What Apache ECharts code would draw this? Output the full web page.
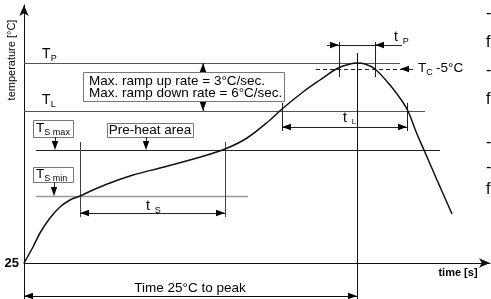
<!DOCTYPE html>
<html>
<head>
<meta charset="utf-8">
<script src="https://cdn.jsdelivr.net/npm/echarts@6/dist/echarts.min.js"></script>
<style>
  html, body { margin: 0; padding: 0; background: #fff; }
  #chart { width: 491px; height: 299px; }
</style>
</head>
<body>
<div id="chart"></div>
<script>
// schematic reflow profile, arbitrary units (not to scale)
var profileTime = [0, 9, 16, 26, 36, 46, 56, 69, 86, 109, 136, 173, 201, 223, 246, 258, 279, 296, 314, 326, 333, 341, 351, 366, 378, 384, 393, 400, 413, 428];
var profileTemp = [0, 16, 30, 45, 56, 63, 67, 73, 80, 88, 95, 105, 114, 125, 143, 154, 171, 183, 195, 199, 200, 199, 194, 178, 162, 152, 129, 113, 83, 49];

// reference temperature levels
var levelNames = ['Tp', 'Tc-5', 'TL', 'TSmax', 'TSmin'];
var levelTemps = [200, 194, 152, 113, 67];
var levelFrom = [0, 292, 0, 12, 12];
var levelTo = [376, 374, 401, 416, 224];

// time windows
var tsRange = [56, 201];
var tlRange = [258, 383];
var tpRange = [315, 351];
var peakTime = 333;

var FONT = '"Liberation Sans", Arial, sans-serif';
var lv = {};
levelNames.forEach(function (n, i) { lv[n] = levelTemps[i]; });

function renderNotes(params, api) {
    var kids = [];
    function pt(x, y) { return api.coord([x, y]); }
    function seg(x0, y0, x1, y1, color, w, dash) {
        var a = pt(x0, y0), b = pt(x1, y1);
        if (a[1] === b[1]) { a[1] = Math.round(a[1]) + 0.5; b[1] = a[1]; }
        if (a[0] === b[0]) { a[0] = Math.round(a[0]) + 0.5; b[0] = a[0]; }
        kids.push({
            type: 'line',
            shape: { x1: a[0], y1: a[1], x2: b[0], y2: b[1] },
            style: { stroke: color || '#333', lineWidth: w || 1, lineDash: dash || null }
        });
    }
    function head(x, y, dir) {
        var p = pt(x, y), L = 9, H = 3.2, q;
        var px = p[0], py = p[1];
        if (dir === 'r') q = [[px, py], [px - L, py - H], [px - L, py + H]];
        if (dir === 'l') q = [[px, py], [px + L, py - H], [px + L, py + H]];
        if (dir === 'u') q = [[px, py], [px - H, py + L], [px + H, py + L]];
        if (dir === 'd') q = [[px, py], [px - H, py - L], [px + H, py - L]];
        kids.push({ type: 'polygon', shape: { points: q }, style: { fill: '#000' } });
    }
    function txt(x, y, s, size, align, weight) {
        var p = pt(x, y);
        kids.push({
            type: 'text',
            style: {
                text: s, x: p[0], y: p[1], fill: '#000',
                font: (weight || 'normal') + ' ' + size + 'px ' + FONT,
                align: align || 'left', verticalAlign: 'middle'
            }
        });
        return p;
    }
    function subLabel(x, y, main, sub, size, subSize) {
        var p = pt(x, y);
        kids.push({ type: 'text', style: { text: main, x: p[0], y: p[1], fill: '#000',
            font: size + 'px ' + FONT, align: 'left', verticalAlign: 'middle' } });
        kids.push({ type: 'text', style: { text: sub, x: p[0] + size * 0.62, y: p[1] + size * 0.3, fill: '#000',
            font: subSize + 'px ' + FONT, align: 'left', verticalAlign: 'middle' } });
    }
    function box(x0, y0, x1, y1) {
        var a = pt(x0, y0), b = pt(x1, y1);
        kids.push({
            type: 'rect',
            shape: { x: Math.round(a[0]) + 0.5, y: Math.round(a[1]) + 0.5, width: Math.round(b[0] - a[0]), height: Math.round(b[1] - a[1]) },
            style: { fill: '#fff', stroke: '#777', lineWidth: 1 }
        });
    }

    // temperature levels
    seg(levelFrom[0], lv.Tp, levelTo[0], lv.Tp, '#555');
    seg(levelFrom[1], lv['Tc-5'], levelTo[1], lv['Tc-5'], '#222', 1, [4, 3]);
    seg(levelFrom[2], lv.TL, levelTo[2], lv.TL, '#555');
    seg(levelFrom[3], lv.TSmax, levelTo[3], lv.TSmax, '#222');
    seg(levelFrom[4], lv.TSmin, levelTo[4], lv.TSmin, '#999', 1.5);

    // preheat window t_s
    seg(tsRange[0], 121, tsRange[0], 46, '#444');
    seg(tsRange[1], 121, tsRange[1], 46, '#444');
    seg(tsRange[0], 50, tsRange[1], 50, '#222');
    head(tsRange[0], 50, 'l');
    head(tsRange[1], 50, 'r');
    subLabel(122, 57, 't', 'S', 14, 9);

    // time above liquidus t_L
    seg(tlRange[0], 160, tlRange[0], 132, '#222');
    seg(tlRange[1], 160, tlRange[1], 132, '#222');
    seg(tlRange[0], 136, tlRange[1], 136, '#222');
    head(tlRange[0], 136, 'l');
    head(tlRange[1], 136, 'r');
    subLabel(319, 145, 't', 'L', 14, 8);

    // time near peak t_p
    seg(tpRange[0], 221, tpRange[0], 186, '#222');
    seg(tpRange[1], 221, tpRange[1], 186, '#222');
    seg(tpRange[0] - 12, 218, tpRange[1] + 27, 218, '#222');
    head(tpRange[0], 218, 'r');
    head(tpRange[1], 218, 'l');
    subLabel(370, 226, 't', 'P', 14, 9);

    // Tc -5 pointer
    seg(376, lv['Tc-5'], 389, lv['Tc-5'], '#222');
    head(376, lv['Tc-5'], 'l');
    subLabel(394, lv['Tc-5'] + 1, 'T', 'C', 13.5, 9);
    txt(412, lv['Tc-5'] + 1, '-5°C', 13.5);

    // peak line and time 25°C to peak
    seg(peakTime, 210, peakTime, -36, '#111');
    seg(0, -33, peakTime, -33, '#111');
    head(0, -33, 'l');
    head(peakTime, -33, 'r');
    txt(166, -25, 'Time 25°C to peak', 13.5, 'center');

    // ramp rate arrow and box
    seg(179, lv.Tp, 179, lv.TL, '#222');
    head(179, lv.Tp, 'u');
    head(179, lv.TL, 'd');
    box(59, 191, 260, 162);
    txt(65, 182, 'Max. ramp up rate = 3°C/sec.', 13.5);
    txt(65, 170, 'Max. ramp down rate = 6°C/sec.', 13.5);

    // Ts max / Ts min / pre-heat labels
    box(9, 143, 49, 126);
    subLabel(12, 135, 'T', 'S max', 13.5, 9);
    seg(31, 126, 31, lv.TSmax + 6, '#222');
    head(31, lv.TSmax, 'd');
    box(9, 96, 49, 81);
    subLabel(12, 89, 'T', 'S min', 13.5, 9);
    seg(30, 81, 30, lv.TSmin + 6, '#222');
    head(30, lv.TSmin, 'd');
    box(83, 140, 169, 126);
    txt(126, 133, 'Pre-heat area', 13.5, 'center');
    seg(122, 126, 122, lv.TSmax + 6, '#222');
    head(122, lv.TSmax, 'd');

    // level names
    subLabel(18, 209, 'T', 'P', 14, 9);
    subLabel(18, 163, 'T', 'L', 14, 9);

    // axis titles
    var yp = pt(-12, 203);
    kids.push({ type: 'text', x: yp[0], y: yp[1], rotation: Math.PI / 2,
        style: { text: 'temperature [°C]', x: 0, y: 0, fill: '#000', font: '11px ' + FONT, align: 'center', verticalAlign: 'middle' } });
    txt(434, -10, 'time [s]', 11, 'center', 'bold');

    // clipped text from neighbouring column
    var edge = [[249, '-'], [220, 'f'], [192, '-'], [163, 'f'], [120, '-'], [95, '-'], [73, 'f']];
    edge.forEach(function (e) { txt(462, e[0], e[1], 16); });

    return { type: 'group', children: kids };
}

var chart = echarts.init(document.getElementById('chart'), null, { renderer: 'canvas' });
chart.setOption({
    animation: false,
    backgroundColor: '#fff',
    grid: { left: 24, right: 1, top: 5, bottom: 0 },
    xAxis: {
        type: 'value', min: 0, max: 466,
        axisLine: { onZero: true, symbol: ['none', 'arrow'], symbolSize: [7, 11], lineStyle: { color: '#111', width: 1 } },
        axisTick: { show: false }, axisLabel: { show: false }, splitLine: { show: false }
    },
    yAxis: {
        type: 'value', min: -36, max: 258,
        axisLine: { show: true, onZero: true, symbol: ['none', 'arrow'], symbolSize: [7, 11], lineStyle: { color: '#111', width: 1 } },
        axisTick: { show: false },
        axisLabel: { customValues: [0], formatter: function () { return '25'; }, margin: 5,
            color: '#000', fontWeight: 'bold', fontSize: 13, fontFamily: FONT },
        splitLine: { show: false }
    },
    series: [
        {
            type: 'custom', renderItem: renderNotes, data: [0], clip: false, silent: true, z: 1
        },
        {
            type: 'line', smooth: 0.35, showSymbol: false, silent: true, z: 3,
            data: profileTime.map(function (t, i) { return [t, profileTemp[i]]; }),
            lineStyle: { color: '#111', width: 1.5 }
        }
    ]
});
</script>
</body>
</html>
